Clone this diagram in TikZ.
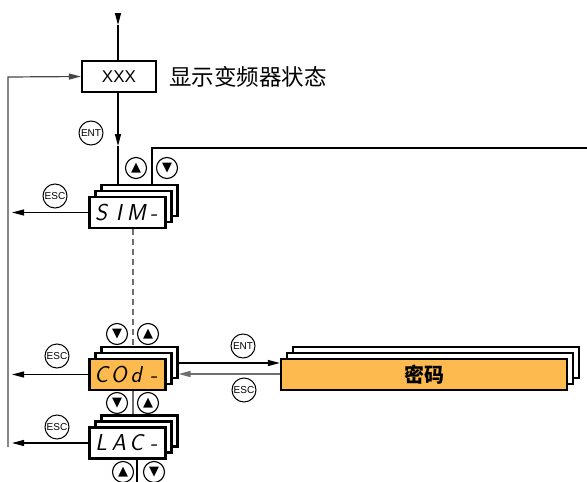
\documentclass[tikz,border=0pt]{standalone}
\usepackage{fontspec}
\usetikzlibrary{arrows.meta}
\setmainfont{Liberation Sans}
\newfontfamily\cjk{Noto Sans CJK SC}
\newfontfamily\dvs{DejaVu Sans}
\newfontfamily\segfont{Latin Modern Sans}[FakeSlant=0.2]
\definecolor{codorange}{RGB}{253,186,79}
\definecolor{linegray}{RGB}{110,110,110}
\definecolor{loopgray}{RGB}{70,70,70}
\newcommand\segtxt[4]{\segfont\fontsize{23}{23}\selectfont\makebox[17.5pt]{#1}\makebox[17.5pt]{#2}\makebox[17.5pt]{#3}\makebox[17.5pt]{#4}}
\tikzset{
  menubox/.style={draw, line width=2.2pt, minimum width=76pt, minimum height=31pt, inner sep=0pt, fill=white},
  pwbox/.style={menubox, minimum width=286pt},
  btn/.style={circle, draw, line width=1pt, minimum size=24pt, inner sep=0pt, font=\fontsize{10}{10}\selectfont},
  arrbtn/.style={circle, draw, line width=1.1pt, minimum size=21pt, inner sep=0pt, font=\dvs\fontsize{13}{13}\selectfont},
  arr/.style={-{Triangle[length=12pt,width=6pt]}, line width=1.2pt},
  ln/.style={line width=1.2pt},
}
\begin{document}
\begin{tikzpicture}[x=1pt,y=-1pt]
\useasboundingbox (0,0) rectangle (587,482);
% main boxes
\node[draw, line width=2.2pt, minimum width=74pt, minimum height=31pt, inner sep=0pt, font=\fontsize{17}{17}\selectfont] (xxx) at (119,76.5) {XXX};
\node[anchor=west, font=\cjk\fontsize{22.5}{22.5}\selectfont, text=black, inner sep=0pt] (lbl) at (169,76.5) {显示变频器状态};
% SIN stack
\node[menubox] (sinc) at (139.5,200.5) {};
\node[menubox] (sinb) at (133.5,206.5) {};
\node[menubox] (sina) at (127.5,212.5) {\segtxt{S}{I}{M}{-}};
% COd stack
\node[menubox] (codc) at (139.5,362.5) {};
\node[menubox] (codb) at (133.5,368.5) {};
\node[menubox, fill=codorange] (coda) at (127.5,374.5) {\segtxt{C}{O}{d}{-}};
% LAC stack
\node[menubox] (lacc) at (139.5,431) {};
\node[menubox] (lacb) at (133.5,437) {};
\node[menubox] (laca) at (127.5,443) {\segtxt{L}{A}{C}{-}};
% password stack
\node[pwbox] (pwc) at (436,362.5) {};
\node[pwbox] (pwb) at (430,368.5) {};
\node[pwbox, fill=codorange, font=\cjk\bfseries\fontsize{20}{20}\selectfont] (pwa) at (424,374.5) {密码};
% buttons
\node[btn] (ent1) at (91,133) {ENT};
\node[btn] (esc1) at (55,196) {ESC};
\node[btn] (esc2) at (57,356) {ESC};
\node[btn] (esc3) at (57,427) {ESC};
\node[btn] (ent2) at (243,346) {ENT};
\node[btn] (esc4) at (244,390) {ESC};
\node[arrbtn] (up1) at (136,168) {▲};
\node[arrbtn] (dn1) at (167,168) {▼};
\node[arrbtn] (dn2) at (117,334) {▼};
\node[arrbtn] (up2) at (148,334) {▲};
\node[arrbtn] (dn3) at (117,403) {▼};
\node[arrbtn] (up3) at (148,403) {▲};
\node[arrbtn] (up4) at (123,472) {▲};
\node[arrbtn] (dn4) at (154,472) {▼};
% coordinates
\coordinate (top) at (118,13);
\coordinate (top2) at (118,25);
\coordinate (m1) at (118,146);
\coordinate (lb) at (8,447);
\coordinate (lt) at (8,77);
\coordinate (tipx) at (12,0);
\coordinate (k) at (152,148);
\coordinate (r1) at (587,148);
\coordinate (dx) at (133,0);
\coordinate (bx) at (137,482);
\coordinate (ey) at (0,363);
\coordinate (sy) at (0,374);
% connectors
\draw[arr] (top) -- (top2);
\draw[ln] (top2) -- (xxx.north -| top2);
\draw[arr, loopgray] (lb) -- (lt) -- (xxx.west);
\draw[arr] (xxx.south -| m1) -- (m1);
\draw[ln] (m1) -- (m1 |- sinc.north);
\draw[ln] (k |- sinc.north) -- (k) -- (r1);
\draw[arr] (sina.west) -- (sina.west -| tipx);
\draw[arr] (coda.west) -- (coda.west -| tipx);
\draw[arr] (laca.west) -- (laca.west -| tipx);
\draw[linegray, line width=1.2pt, dash pattern=on 6pt off 4pt] (sina.south -| dx) -- (codc.north -| dx);
\draw[ln, linegray] (coda.south -| dx) -- (lacc.north -| dx);
\draw[ln] (laca.south -| bx) -- (bx);
\draw[arr] (codc.east |- ey) -- (pwa.west |- ey);
\draw[arr, linegray, line width=1.5pt] (pwa.west |- sy) -- (codc.east |- sy);
\end{tikzpicture}
\end{document}
